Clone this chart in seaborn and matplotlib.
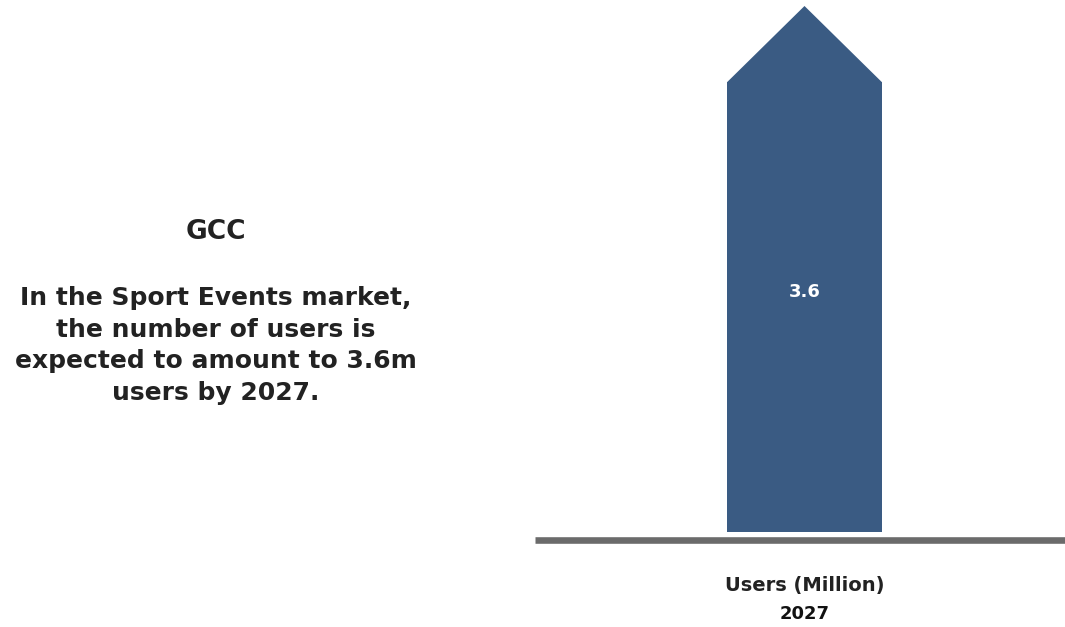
import matplotlib
matplotlib.use("Agg")
import matplotlib.pyplot as plt
import seaborn as sns
import pandas as pd

# ---- data ----
categories = ["2027"]
values = [3.6]
metric_label = "Users (Million)"
region = "GCC"
description = "In the Sport Events market,\nthe number of users is\nexpected to amount to 3.6m\nusers by 2027."

BAR_COLOR = "#3a5b83"
AXIS_COLOR = "#6b6b6b"
TEXT_COLOR = "#222222"
FONT = ["DejaVu Sans"]

sns.set_theme(style="white")
plt.rcParams["font.family"] = FONT

W, H = 1065, 627
fig = plt.figure(figsize=(W / 100, H / 100), dpi=100)
# axes: x from 535 to 1065 px, y from 539.5 px (axis line) to top
ax = fig.add_axes([535 / W, (H - 539.5) / H, 530 / W, 539.5 / H])

df = pd.DataFrame({"year": categories, "value": values})
bar_w = 0.6
sns.barplot(data=df, x="year", y="value", color=BAR_COLOR, width=bar_w,
            saturation=1, ax=ax, edgecolor="none", linewidth=0)

# scale: 125 px per unit
px_per_unit = 125.0
ax.set_ylim(-7.5 / px_per_unit, 532 / px_per_unit)
span = bar_w * 530 / 155
left = -269.5 / 530 * span
ax.set_xlim(left, left + span)

# arrow heads on top of each bar, derived from bar geometry
head_h = 76 / px_per_unit
for patch, v in zip(ax.patches, values):
    x0 = patch.get_x()
    w = patch.get_width()
    ax.fill([x0, x0 + w / 2, x0 + w], [v - 0.002, v + head_h, v - 0.002],
            color=BAR_COLOR, linewidth=0, zorder=patch.get_zorder())
    ax.text(x0 + w / 2, v * 0.534, f"{v:.1f}", color="white", ha="center",
            va="center", fontsize=13, fontweight="bold", family=FONT)

for s in ["top", "right", "left"]:
    ax.spines[s].set_visible(False)
ax.spines["bottom"].set_color(AXIS_COLOR)
ax.spines["bottom"].set_linewidth(4.75)
ax.spines["bottom"].set_capstyle("butt")
ax.set_xticks([])
ax.set_yticks([])
ax.set_xlabel("")
ax.set_ylabel("")

# labels under the axis
cx = 804.5
fig.text(cx / W, 1 - 586 / H, metric_label, ha="center", va="center",
         fontsize=14, fontweight="bold", color=TEXT_COLOR, family=FONT)
fig.text(cx / W, 1 - 614 / H, categories[0], ha="center", va="center",
         fontsize=13, fontweight="heavy", color="#111111", family=FONT)

# left-side description
lx = 216
fig.text(lx / W, 1 - 232 / H, region, ha="center", va="center",
         fontsize=19, fontweight="bold", color=TEXT_COLOR, family=FONT)
fig.text(lx / W, 1 - 345.5 / H, description, ha="center", va="center",
         fontsize=18, fontweight="bold", color=TEXT_COLOR, family=FONT,
         linespacing=1.41)

fig.savefig("out.png", dpi=100, facecolor="white")
